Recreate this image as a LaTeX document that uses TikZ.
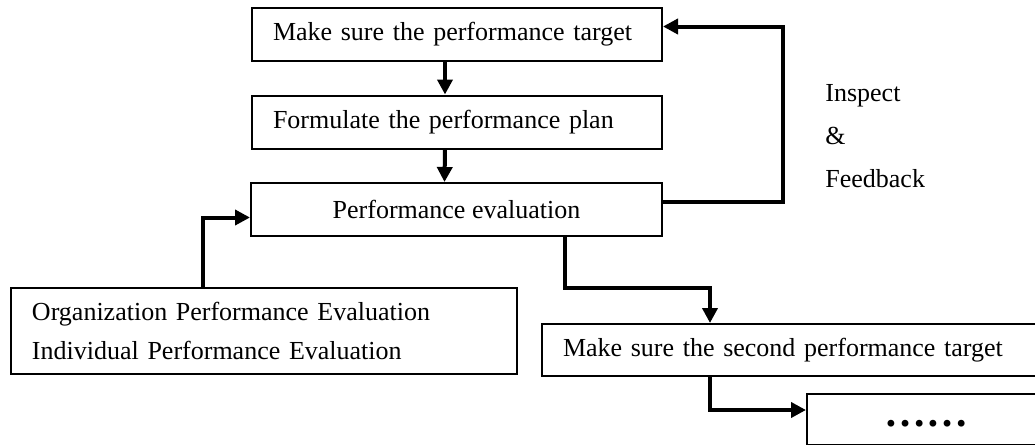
\documentclass[tikz,border=0pt]{standalone}
\usepackage{fontspec}
\setmainfont{Liberation Serif}
\usetikzlibrary{arrows.meta}

\begin{document}
\begin{tikzpicture}[x=0.5pt,y=-0.5pt,
  box/.style={draw,line width=1pt,minimum height=26.5pt,font=\fontsize{13}{19.5}\selectfont},
  arr/.style={line width=2pt,-{Triangle[length=7.5pt,width=7.5pt]}}]
\clip (0,0) rectangle (1035,445);

\node[box,minimum width=205pt,text width=184pt,align=left,inner xsep=0pt] (target) at (457,34.5) {Make sure the performance target};
\node[box,minimum width=205pt,text width=184pt,align=left,inner xsep=0pt] (plan) at (457,122) {Formulate the performance plan};
\node[box,minimum width=205.5pt] (eval) at (456.5,209.5) {Performance evaluation};
\node[box,minimum width=253pt,minimum height=43pt,text width=232pt,align=left,inner xsep=0pt] (org) at (264,331) {Organization Performance Evaluation\\Individual Performance Evaluation};
\node[box,anchor=north west,minimum width=260pt,minimum height=26pt,text width=239pt,align=left,inner xsep=10.5pt] (second) at (541,323) {Make sure the second performance target};
\node[box,anchor=north west,minimum width=120pt,minimum height=25.5pt,inner sep=0pt] (dots) at (806,393) {};
\node[font=\fontsize{21}{21}\selectfont\bfseries] (ell) at (926,424) {……};
\node[anchor=west,align=left,inner sep=0pt,font=\fontsize{13}{21.5}\selectfont] (fb) at (825,136) {Inspect\\\&\\Feedback};

\draw[arr] ([xshift=-6pt]target.south) -- ([xshift=-6pt]plan.north);
\draw[arr] ([xshift=-6pt]plan.south) -- ([xshift=-6pt]eval.north);
\draw[arr] ([yshift=4pt]eval.east) -- ++(60pt,0) |- ([yshift=4pt]target.east);
\draw[arr] ([xshift=-30.5pt]org.north) |- ([yshift=-4pt]eval.west);
\draw[arr] ([xshift=54pt]eval.south) -- ++(0,-25.5pt) -| ([xshift=84.5pt]second.north west);
\draw[arr] ([xshift=84.5pt]second.south west) |- ([yshift=4.75pt]dots.west);
\end{tikzpicture}
\end{document}
